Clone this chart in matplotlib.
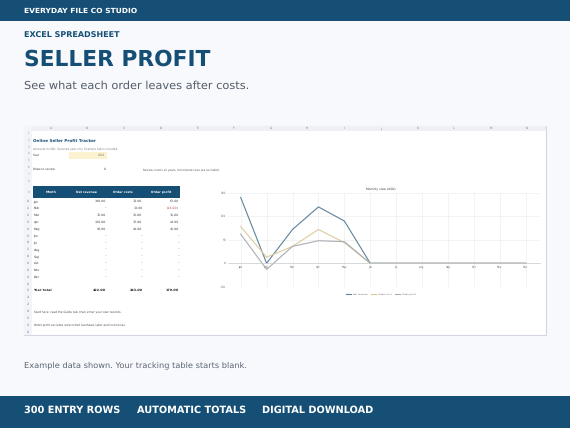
import matplotlib
matplotlib.use("Agg")
import matplotlib.pyplot as plt
from matplotlib.patches import Rectangle

plt.rcParams["text.hinting"] = "no_hinting"
plt.rcParams["text.hinting_factor"] = 8

W, H = 570, 428
NAVY = "#164f76"
BG = "#f8f9fd"

months = ["Jan", "Feb", "Mar", "Apr", "May", "Jun", "Jul", "Aug", "Sep", "Oct", "Nov", "Dec"]
net_revenue = [140, 0, 72, 120, 90, 0, 0, 0, 0, 0, 0, 0]
order_costs = [78, 13, 36, 72, 44, 0, 0, 0, 0, 0, 0, 0]
order_profit = [62, -13, 36, 48, 46, 0, 0, 0, 0, 0, 0, 0]
table_headers = ["Month", "Net revenue", "Order costs", "Order profit"]
col_letters = ["A", "B", "C", "D", "E", "F", "G", "H", "I", "J", "K", "L", "M", "N"]
totals = ["422.00", "243.00", "179.00"]
y_ticks = [-50, 0, 50, 100, 150]
footer_items = ["300 ENTRY ROWS", "AUTOMATIC TOTALS", "DIGITAL DOWNLOAD"]


def money(v):
    if v == 0:
        return "–"
    return f"({abs(v):.2f})" if v < 0 else f"{v:.2f}"


fig = plt.figure(figsize=(W / 100, H / 100), dpi=100, facecolor=BG)
bg = fig.add_axes([0, 0, 1, 1])
bg.set_xlim(0, W)
bg.set_ylim(H, 0)
bg.axis("off")


def rect(x0, y0, x1, y1, color, **kw):
    bg.add_patch(Rectangle((x0, y0), x1 - x0, y1 - y0, facecolor=color, edgecolor=kw.pop("edge", "none"),
                           linewidth=kw.pop("lw", 0), **kw))


def txt(x, y, s, size, color="#333333", weight="normal", ha="left"):
    bg.text(x, y, s, fontsize=size, color=color, fontweight=weight, ha=ha, va="center", family="DejaVu Sans")


# header / footer bands
rect(0, 0, W, 21, NAVY)
rect(0, 396, W, H, NAVY)
txt(24, 10.5, "EVERYDAY FILE CO STUDIO", 5.4, "white", "bold")
txt(24, 35.5, "EXCEL SPREADSHEET", 5.75, NAVY, "bold")
txt(24, 60, "SELLER PROFIT", 15.7, NAVY, "bold")
txt(24, 86, "See what each order leaves after costs.", 8.2, "#525c68")
txt(24, 365.5, "Example data shown. Your tracking table starts blank.", 5.95, "#5b6470")
for x, s in zip([24, 137, 262], footer_items):
    txt(x, 410.5, s, 7.0, "white", "bold")

# spreadsheet frame
rect(24, 126, 546, 335, "white", edge="#d3d7e2", lw=0.8)
rect(24, 126, 546, 131, "#eef0f6")
rect(24, 126, 32, 335, "#f3f4f9")
for i, c in enumerate(col_letters):
    txt(50.5 + i * 36.67, 128.5, c, 2.0, "#777777", ha="center")


def row_y(r):
    if r >= 10:
        return 201.3 + (r - 10) * 6.87
    if r == 9:
        return 192
    return 133 + (r - 1) * 6.85


for r in range(1, 30):
    txt(28.5, row_y(r), str(r), 1.8, "#888888", ha="center")

txt(33, 141, "Online Seller Profit Tracker", 3.0, NAVY, "bold")
txt(33, 148.5, "Amounts in USD. Selected year only. Example tab is included.", 2.03, "#777777")
rect(69, 152, 107, 159, "#fdf2d0")
txt(33, 155.5, "Year", 2.05, "#333333")
txt(105.5, 155.5, "2026", 2.05, "#777777", ha="right")
txt(33, 169.3, "Rows to review", 2.05, "#333333")
txt(105.5, 169.3, "0", 2.05, "#333333", ha="right")
txt(143, 169.3, "Review counts all years. Incomplete rows are excluded.", 1.98, "#555555")

# table
rect(33, 186, 179.5, 197.7, NAVY)
for x, s in zip([50.7, 86, 123, 161], table_headers):
    txt(x, 192, s, 2.2, "white", "bold", ha="center")
for i, m in enumerate(months):
    y = row_y(10 + i)
    txt(33.5, y, m, 2.3, "#333333")
    txt(106, y, money(net_revenue[i]), 2.3, "#444444", ha="right")
    txt(142.5, y, money(order_costs[i]), 2.3, "#444444", ha="right")
    txt(179, y, money(order_profit[i]), 2.3, "#b03a3a" if order_profit[i] < 0 else "#444444", ha="right")
y = row_y(23)
txt(33.5, y, "Year total", 2.4, "#222222", "bold")
for x, s in zip([106, 142.5, 179], totals):
    txt(x, y, s, 2.4, "#222222", "bold", ha="right")
txt(33.5, row_y(26), "Start here: read the Guide tab, then enter your own records.", 2.05, "#444444")
txt(33.5, row_y(28), "Order profit excludes unrecorded overhead, labor and income tax.", 1.98, "#444444")

# line chart: axes placed so that y=150 -> 192.8 px, y=-50 -> 286.8 px
ax = fig.add_axes([228 / W, 1 - 286.8 / H, (540 - 228) / W, (286.8 - 192.8) / H], facecolor="none")
ax.set_xlim(-0.49, 11.55)
ax.set_ylim(-50, 150)
ax.set_yticks(y_ticks)
ax.set_xticks(range(12))
ax.set_xticklabels(months)
ax.grid(True, color="#eceef0", linewidth=0.5)
ax.set_axisbelow(True)
for s in ["top", "left", "right"]:
    ax.spines[s].set_visible(False)
ax.spines["bottom"].set_position(("data", 0))
ax.spines["bottom"].set_color("#c9cdd2")
ax.spines["bottom"].set_linewidth(0.5)
ax.tick_params(length=0, labelsize=2.0, labelcolor="#666666", pad=1.5)
l1, = ax.plot(net_revenue, color="#5f8298", lw=0.8, label="Net revenue")
l2, = ax.plot(order_costs, color="#dccb9b", lw=0.8, label="Order costs")
l3, = ax.plot(order_profit, color="#a9adb2", lw=0.8, label="Order profit")
ax.set_title("Monthly view (USD)", fontsize=2.15, color="#333333", pad=2.6, x=0.49)
ax.legend(handles=[l1, l2, l3], loc="upper center", bbox_to_anchor=(0.49, -0.045), ncol=3, frameon=False,
          fontsize=1.7, labelcolor="#666666", handlelength=2.2, columnspacing=1.6, handletextpad=0.6)

fig.savefig("out.png", dpi=100, facecolor=BG)
